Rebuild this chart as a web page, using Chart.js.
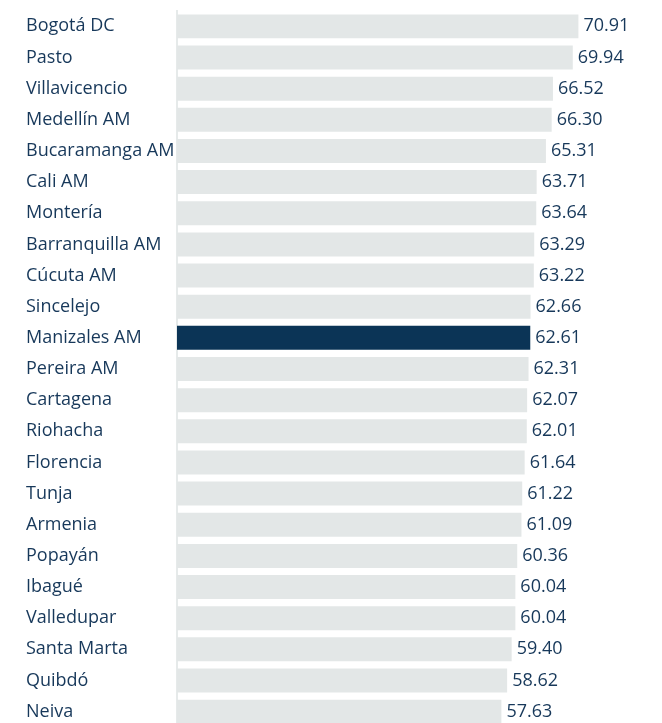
<!DOCTYPE html>
<html>
<head>
<meta charset="utf-8">
<script src="https://cdn.jsdelivr.net/npm/chart.js@4"></script>
<style>
  html, body { margin: 0; padding: 0; background: #ffffff; overflow: hidden; }
  #wrap { width: 662px; height: 738px; }
</style>
</head>
<body>
<div id="wrap"><canvas id="c" width="662" height="738"></canvas></div>
<script>
const categories = ["Bogotá DC","Pasto","Villavicencio","Medellín AM","Bucaramanga AM","Cali AM","Montería","Barranquilla AM","Cúcuta AM","Sincelejo","Manizales AM","Pereira AM","Cartagena","Riohacha","Florencia","Tunja","Armenia","Popayán","Ibagué","Valledupar","Santa Marta","Quibdó","Neiva"];
const values = [70.91,69.94,66.52,66.30,65.31,63.71,63.64,63.29,63.22,62.66,62.61,62.31,62.07,62.01,61.64,61.22,61.09,60.36,60.04,60.04,59.40,58.62,57.63];
const highlighted = "Manizales AM";

const textColor = "#17385a";
const barColor = "#e3e7e7";
const highlightColor = "#0b3456";

const valueLabels = {
  id: "valueLabels",
  afterDatasetsDraw(chart) {
    const ctx = chart.ctx;
    const meta = chart.getDatasetMeta(0);
    ctx.save();
    ctx.font = "18px 'Open Sans'";
    ctx.fillStyle = textColor;
    ctx.textAlign = "left";
    ctx.textBaseline = "middle";
    meta.data.forEach((bar, i) => {
      ctx.fillText(values[i].toFixed(2), bar.x + 5, bar.y);
    });
    ctx.restore();
  }
};

new Chart(document.getElementById("c"), {
  type: "bar",
  data: {
    labels: categories,
    datasets: [{
      data: values,
      backgroundColor: categories.map(c => c === highlighted ? highlightColor : barColor),
      borderWidth: 0,
      categoryPercentage: 1,
      barPercentage: 0.77
    }]
  },
  options: {
    indexAxis: "y",
    responsive: false,
    animation: false,
    layout: { padding: { left: 26, right: 22, top: 8, bottom: 0 } },
    plugins: { legend: { display: false }, tooltip: { enabled: false } },
    scales: {
      x: {
        display: false,
        min: 1.7,
        max: 81.53
      },
      y: {
        afterFit(scale) { scale.width = 151; },
        grid: { display: false, drawTicks: false },
        border: { display: true, color: "#e6eaea", width: 2 },
        ticks: {
          crossAlign: "far",
          padding: 0,
          color: textColor,
          font: { family: "'Open Sans'", size: 18 }
        }
      }
    }
  },
  plugins: [valueLabels]
});
</script>
</body>
</html>
